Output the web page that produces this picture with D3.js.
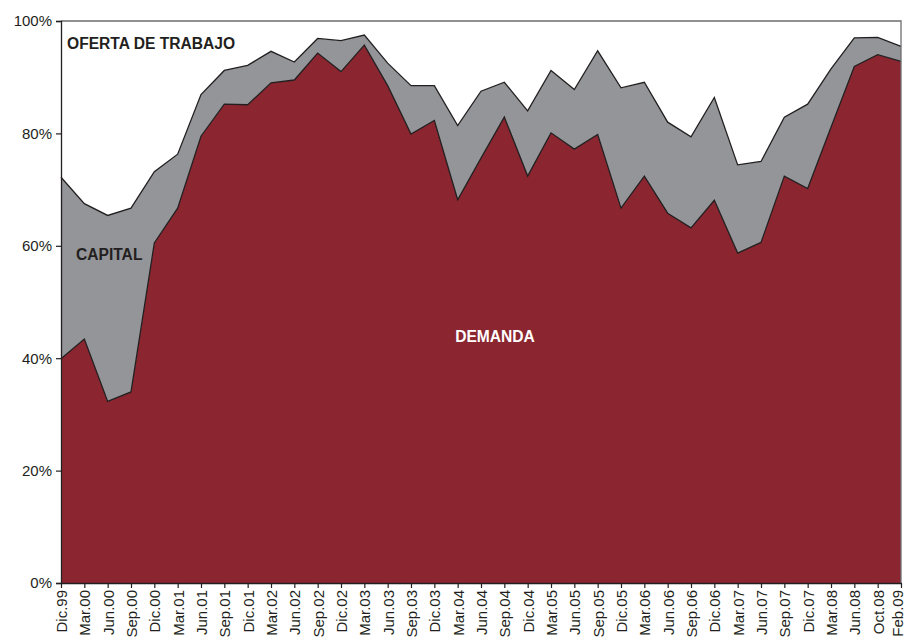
<!DOCTYPE html>
<html>
<head>
<meta charset="utf-8">
<script src="https://cdn.jsdelivr.net/npm/d3@7"></script>
<style>
  body { margin: 0; background: #fff; }
  svg { display: block; font-family: "Liberation Sans", Arial, sans-serif; }
</style>
</head>
<body>
<svg id="chart" width="907" height="644"></svg>
<script>
// periods on the x axis
const periods = ['Dic.99','Mar.00','Jun.00','Sep.00','Dic.00','Mar.01','Jun.01','Sep.01','Dic.01',
  'Mar.02','Jun.02','Sep.02','Dic.02','Mar.03','Jun.03','Sep.03','Dic.03','Mar.04','Jun.04','Sep.04',
  'Dic.04','Mar.05','Jun.05','Sep.05','Dic.05','Mar.06','Jun.06','Sep.06','Dic.06','Mar.07','Jun.07',
  'Sep.07','Dic.07','Mar.08','Jun.08','Oct.08','Feb.09']

// shares (%) of each factor
const demanda = [39.9, 43.4, 32.3, 34.0, 60.5, 66.7, 79.5, 85.2, 85.1, 89.0, 89.5, 94.3, 91.0, 95.7, 88.5,
  79.9, 82.3, 68.2, 75.6, 82.9, 72.4, 80.1, 77.2, 79.8, 66.7, 72.4, 65.8, 63.2, 68.1, 58.7, 60.6, 72.4,
  70.2, 81.1, 91.9, 94.0, 92.8]
const capital = [32.3, 24.1, 33.1, 32.7, 12.7, 9.6, 7.4, 6.0, 7.0, 5.6, 3.2, 2.6, 5.5, 1.8, 4.0, 8.6, 6.2,
  13.2, 11.9, 6.2, 11.6, 11.1, 10.6, 14.9, 21.4, 16.7, 16.2, 16.2, 18.3, 15.7, 14.4, 10.5, 15.0, 10.4,
  5.1, 3.1, 2.7]
const oferta = [27.8, 32.5, 34.6, 33.3, 26.8, 23.7, 13.1, 8.8, 7.9, 5.4, 7.3, 3.1, 3.5, 2.5, 7.5, 11.5,
  11.5, 18.6, 12.5, 10.9, 16.0, 8.8, 12.2, 5.3, 11.9, 10.9, 18.0, 20.6, 13.6, 25.6, 25.0, 17.1, 14.8,
  8.5, 3.0, 2.9, 4.5]

const yTicks = [0, 20, 40, 60, 80, 100]

const width = 907, height = 644
const margin = { top: 21, right: 6, bottom: 61, left: 61 }
const w = width - margin.left - margin.right
const h = height - margin.top - margin.bottom

const svg = d3.select('#chart')
const g = svg.append('g').attr('transform', `translate(${margin.left},${margin.top})`)

const rows = periods.map((p, i) => ({ period: p, demanda: demanda[i], capital: capital[i], oferta: oferta[i] }))
const keys = ['demanda', 'capital', 'oferta']
const colors = { demanda: '#8b2630', capital: '#939598', oferta: '#ffffff' }

const series = d3.stack().keys(keys)(rows)

const x = d3.scalePoint().domain(periods).range([0, w])
const y = d3.scaleLinear().domain([0, 100]).range([h, 0])

const area = d3.area()
  .x(d => x(d.data.period))
  .y0(d => y(d[0]))
  .y1(d => y(d[1]))

g.append('g')
  .selectAll('path')
  .data(series)
  .join('path')
  .attr('d', area)
  .attr('fill', d => colors[d.key])

// outline of each band's upper edge
const topLine = d3.line()
  .x(d => x(d.data.period))
  .y(d => y(d[1]))

g.append('g')
  .selectAll('path')
  .data(series.filter(s => s.key !== 'oferta'))
  .join('path')
  .attr('d', topLine)
  .attr('fill', 'none')
  .attr('stroke', '#231f20')
  .attr('stroke-width', 1.3)
  .attr('stroke-linejoin', 'miter')

// frame top and right
g.append('path')
  .attr('d', `M0,0H${w}V${h}`)
  .attr('fill', 'none')
  .attr('stroke', '#6d6e71')
  .attr('stroke-width', 1.3)

// y axis
const yAxis = g.append('g')
  .call(d3.axisLeft(y).tickValues(yTicks).tickSize(5).tickPadding(4).tickFormat(d => d + '%'))
yAxis.select('.domain').attr('stroke', '#231f20').attr('stroke-width', 1.3)
yAxis.selectAll('.tick line').attr('stroke', '#231f20').attr('stroke-width', 1.2)
yAxis.selectAll('text')
  .style('font-size', '15px')
  .attr('fill', '#231f20')

// x axis
const xAxis = g.append('g')
  .attr('transform', `translate(0,${h})`)
  .call(d3.axisBottom(x).tickSize(5).tickSizeOuter(0))
xAxis.select('.domain').attr('stroke', '#231f20').attr('stroke-width', 1.3)
xAxis.selectAll('.tick line').attr('stroke', '#231f20').attr('stroke-width', 1.2)
xAxis.selectAll('text')
  .style('font-size', '15px')
  .attr('fill', '#231f20')
  .attr('transform', 'rotate(-90)')
  .attr('x', -7)
  .attr('y', 0)
  .attr('dy', (d, i) => i === periods.length - 1 ? '0.1em' : '0.36em') // keep last label inside the page
  .style('text-anchor', 'end')

// in-chart labels
g.append('text')
  .attr('x', 6).attr('y', 28)
  .style('font-size', '15.6px').style('font-weight', 'bold')
  .attr('fill', '#231f20')
  .text('OFERTA DE TRABAJO')

g.append('text')
  .attr('x', 15).attr('y', 239)
  .style('font-size', '15.6px').style('font-weight', 'bold')
  .attr('fill', '#231f20')
  .text('CAPITAL')

g.append('text')
  .attr('x', 434).attr('y', 321)
  .attr('text-anchor', 'middle')
  .style('font-size', '15.6px').style('font-weight', 'bold')
  .attr('fill', '#ffffff')
  .text('DEMANDA')
</script>
</body>
</html>
